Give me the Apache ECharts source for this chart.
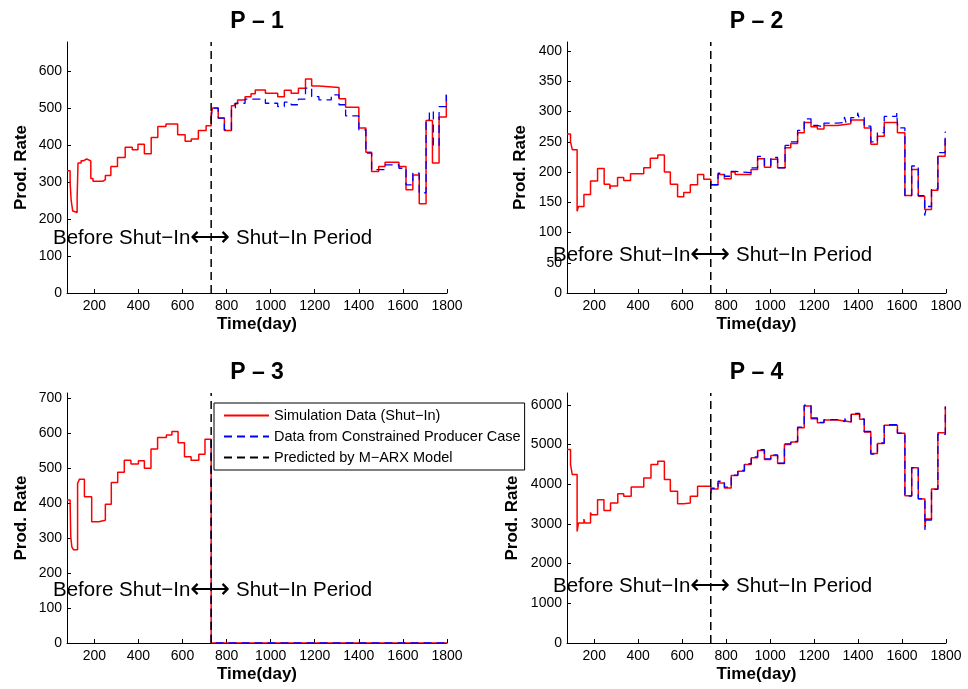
<!DOCTYPE html>
<html>
<head>
<meta charset="utf-8">
<script src="https://cdn.jsdelivr.net/npm/echarts@6.0.0/dist/echarts.min.js"></script>
<style>
  html, body { margin: 0; padding: 0; background: #fff; }
  #chart { width: 968px; height: 689px; }
</style>
</head>
<body>
<div id="chart"></div>
<script>
// Shared time axis (days) and the start of the shut-in period
const xMin = 76;
const xMax = 1800;
const shutInDay = 730;
const xTicks = [200, 400, 600, 800, 1000, 1200, 1400, 1600, 1800];

const seriesNames = [
  'Simulation Data (Shut\u2212In)',
  'Data from Constrained Producer Case',
  'Predicted by M\u2212ARX Model'
];
const panelTitles = ['P \u2013 1', 'P \u2013 2', 'P \u2013 3', 'P \u2013 4'];

// Y-axis upper limits and tick values per well
const yMaxes = [680, 415, 715, 6300];
const p1YTicks = [0, 100, 200, 300, 400, 500, 600];
const p2YTicks = [0, 50, 100, 150, 200, 250, 300, 350, 400];
const p3YTicks = [0, 100, 200, 300, 400, 500, 600, 700];
const p4YTicks = [0, 1000, 2000, 3000, 4000, 5000, 6000];

// Production rate steps: [day the level starts, rate]
const p1Sim = [[76,331],[90,300],[95,250],[102,222],[110,218],[122,260],[126,352],[140,358],[150,363],[165,358],[184,310],[194,303],[240,307],[250,318],[275,343],[305,367],[340,395],[372,388],[398,403],[427,377],[458,421],[488,451],[525,458],[578,429],[612,411],[640,417],[672,440],[707,453],[730,487],[737,501],[762,474],[790,440],[822,507],[836,513],[850,523],[884,532],[911,540],[930,550],[976,541],[1032,532],[1062,549],[1093,541],[1126,555],[1158,580],[1186,561],[1219,557],[1310,526],[1340,503],[1400,447],[1432,381],[1458,329],[1490,343],[1519,354],[1582,343],[1614,280],[1645,320],[1674,242],[1705,467],[1734,352],[1764,477],[1797,537],[1800,537]];
const p1Con = [[730,470],[735,501],[762,474],[790,442],[822,496],[840,514],[884,525],[976,514],[1032,505],[1062,517],[1093,510],[1126,525],[1158,555],[1186,532],[1219,523],[1275,537],[1310,510],[1340,480],[1400,442],[1432,379],[1458,334],[1519,347],[1582,338],[1614,293],[1645,325],[1674,271],[1705,470],[1720,492],[1738,400],[1764,505],[1797,537],[1800,537]];

const p2Sim = [[76,263],[92,250],[100,237],[122,135],[128,143],[153,163],[183,185],[215,206],[245,180],[271,172],[274,177],[306,191],[334,186],[365,197],[425,207],[455,223],[489,228],[519,200],[546,180],[579,159],[607,166],[637,179],[670,196],[698,188],[730,179],[763,196],[792,189],[823,200],[841,196],[913,204],[943,222],[974,208],[1003,221],[1034,207],[1068,240],[1094,247],[1125,265],[1155,282],[1186,275],[1215,271],[1245,277],[1306,280],[1367,286],[1428,273],[1458,246],[1488,259],[1519,282],[1579,265],[1613,161],[1644,204],[1674,160],[1703,138],[1734,170],[1763,226],[1796,254],[1800,254]];
const p2Con = [[730,179],[763,198],[792,193],[823,201],[841,199],[913,207],[943,226],[974,211],[1003,224],[1034,207],[1068,244],[1094,250],[1125,269],[1155,288],[1186,277],[1215,274],[1245,281],[1306,282],[1338,291],[1345,282],[1367,290],[1398,298],[1404,290],[1428,276],[1458,250],[1488,265],[1519,292],[1576,298],[1580,273],[1613,161],[1644,210],[1674,161],[1703,128],[1712,143],[1734,172],[1763,232],[1796,266],[1800,266]];

const p3Sim = [[76,409],[90,406],[93,304],[98,275],[105,267],[124,456],[132,468],[155,418],[188,347],[220,351],[250,397],[277,459],[306,488],[336,523],[366,512],[400,521],[427,500],[457,555],[487,588],[527,595],[552,605],[580,573],[609,533],[639,523],[674,540],[702,583],[730,0],[1800,0]];
const p3Con = [[730,583],[731,0],[1800,0]];

const p4Sim = [[76,4878],[92,4500],[100,4245],[122,2810],[128,3021],[153,3122],[157,3021],[183,3291],[187,3232],[215,3612],[244,3342],[274,3527],[307,3764],[334,3696],[368,3932],[425,4160],[458,4498],[489,4582],[519,4118],[546,3823],[579,3511],[607,3527],[637,3696],[670,3949],[730,3780],[733,3882],[763,4034],[792,3907],[823,4219],[853,4329],[883,4498],[914,4667],[943,4852],[974,4624],[1003,4726],[1034,4523],[1065,5004],[1094,5063],[1125,5426],[1155,5975],[1186,5654],[1215,5553],[1245,5620],[1307,5570],[1369,5764],[1407,5637],[1428,5316],[1458,4776],[1488,5030],[1519,5485],[1579,5283],[1613,3713],[1644,4414],[1674,3629],[1704,2937],[1708,3122],[1734,3882],[1763,5300],[1797,5958],[1800,5958]];
const p4Con = [[730,3780],[733,3900],[763,4076],[792,3930],[823,4230],[853,4350],[883,4520],[914,4690],[943,4870],[974,4640],[1003,4740],[1034,4530],[1065,5020],[1094,5080],[1125,5440],[1155,5992],[1186,5670],[1215,5560],[1245,5630],[1307,5580],[1340,5660],[1345,5580],[1369,5789],[1407,5650],[1428,5330],[1458,4760],[1488,5040],[1519,5500],[1579,5290],[1613,3700],[1644,4420],[1674,3640],[1704,2852],[1708,3100],[1734,3870],[1763,5257],[1797,5958],[1800,5958]];

// Panel geometry (pixels)
const grids = [
  { left: 67,  top: 42,  width: 380, height: 251 },
  { left: 567, top: 42,  width: 379, height: 251 },
  { left: 67,  top: 393, width: 380, height: 250 },
  { left: 567, top: 393, width: 379, height: 250 }
];
const yNameGaps = [37, 38, 37, 46];
const annot = [
  { x: 53,  y: 238 },
  { x: 553, y: 255 },
  { x: 53,  y: 590 },
  { x: 553, y: 586 }
];

const simData = [p1Sim, p2Sim, p3Sim, p4Sim];
const conData = [p1Con, p2Con, p3Con, p4Con];
const yTicks = [p1YTicks, p2YTicks, p3YTicks, p4YTicks];

const FONT = '"Liberation Sans", Arial, Helvetica, sans-serif';
const plain = v => String(v);

const option = {
  animation: false,
  backgroundColor: '#fff',
  title: grids.map((g, i) => ({
    text: panelTitles[i],
    left: g.left + g.width / 2,
    top: g.top - 32,
    textAlign: 'center',
    padding: 0,
    textStyle: { fontFamily: FONT, fontWeight: 'bold', fontSize: 23, color: '#000' }
  })),
  grid: grids.map(g => Object.assign({ containLabel: false }, g)),
  xAxis: grids.map((g, i) => ({
    type: 'value',
    gridIndex: i,
    min: xMin,
    max: xMax,
    name: 'Time(day)',
    nameLocation: 'middle',
    nameGap: 23,
    nameTextStyle: { fontFamily: FONT, fontWeight: 'bold', fontSize: 17, color: '#000' },
    axisLine: { onZero: false, lineStyle: { color: '#000', width: 1 } },
    axisTick: { inside: true, length: 4, lineStyle: { color: '#000' }, customValues: xTicks },
    axisLabel: { fontFamily: FONT, fontSize: 14, color: '#000', margin: 6, customValues: xTicks, formatter: plain },
    splitLine: { show: false }
  })),
  yAxis: grids.map((g, i) => ({
    type: 'value',
    gridIndex: i,
    min: 0,
    max: yMaxes[i],
    name: 'Prod. Rate',
    nameLocation: 'middle',
    nameGap: yNameGaps[i],
    nameTextStyle: { fontFamily: FONT, fontWeight: 'bold', fontSize: 17, color: '#000' },
    axisLine: { show: true, onZero: false, lineStyle: { color: '#000', width: 1 } },
    axisTick: { show: true, inside: true, length: 4, lineStyle: { color: '#000' }, customValues: yTicks[i] },
    axisLabel: { fontFamily: FONT, fontSize: 14, color: '#000', margin: 5, customValues: yTicks[i], formatter: plain },
    splitLine: { show: false }
  })),
  legend: {
    orient: 'vertical',
    left: 214,
    top: 403,
    itemWidth: 45,
    itemHeight: 14,
    itemGap: 6,
    padding: [5, 4, 5, 9],
    borderColor: '#000',
    borderWidth: 1,
    backgroundColor: '#fff',
    z: 10,
    data: seriesNames,
    itemStyle: { opacity: 0 },
    textStyle: { fontFamily: FONT, fontSize: 14.5, color: '#000' }
  },
  graphic: annot.map(a => ({
    type: 'text',
    x: a.x,
    y: a.y,
    z: 5,
    style: {
      text: 'Before Shut\u2212In{a|\u27F7} Shut\u2212In Period',
      font: '20.5px ' + FONT,
      fill: '#000',
      verticalAlign: 'middle',
      rich: { a: { fontSize: 28, fontFamily: FONT, fill: '#000' } }
    }
  })),
  series: []
};

for (let i = 0; i < 4; i++) {
  option.series.push({
    name: seriesNames[0],
    type: 'line',
    xAxisIndex: i, yAxisIndex: i,
    step: 'end',
    showSymbol: false, symbol: 'none',
    data: simData[i],
    lineStyle: { color: '#ff0000', width: 1.5 },
    itemStyle: { color: '#ff0000' },
    z: 2
  });
  option.series.push({
    name: seriesNames[1],
    type: 'line',
    xAxisIndex: i, yAxisIndex: i,
    step: 'end',
    showSymbol: false, symbol: 'none',
    data: conData[i],
    lineStyle: { color: '#0000ff', width: 1.3, type: [8, 5] },
    itemStyle: { color: '#0000ff' },
    z: 3
  });
  option.series.push({
    name: seriesNames[2],
    type: 'line',
    xAxisIndex: i, yAxisIndex: i,
    showSymbol: false, symbol: 'none',
    data: [[shutInDay, 0], [shutInDay, yMaxes[i]]],
    lineStyle: { color: '#000', width: 1.5, type: [8, 5] },
    itemStyle: { color: '#000' },
    z: 4
  });
}

const chart = echarts.init(document.getElementById('chart'), null, { renderer: 'canvas' });
chart.setOption(option);
</script>
</body>
</html>
